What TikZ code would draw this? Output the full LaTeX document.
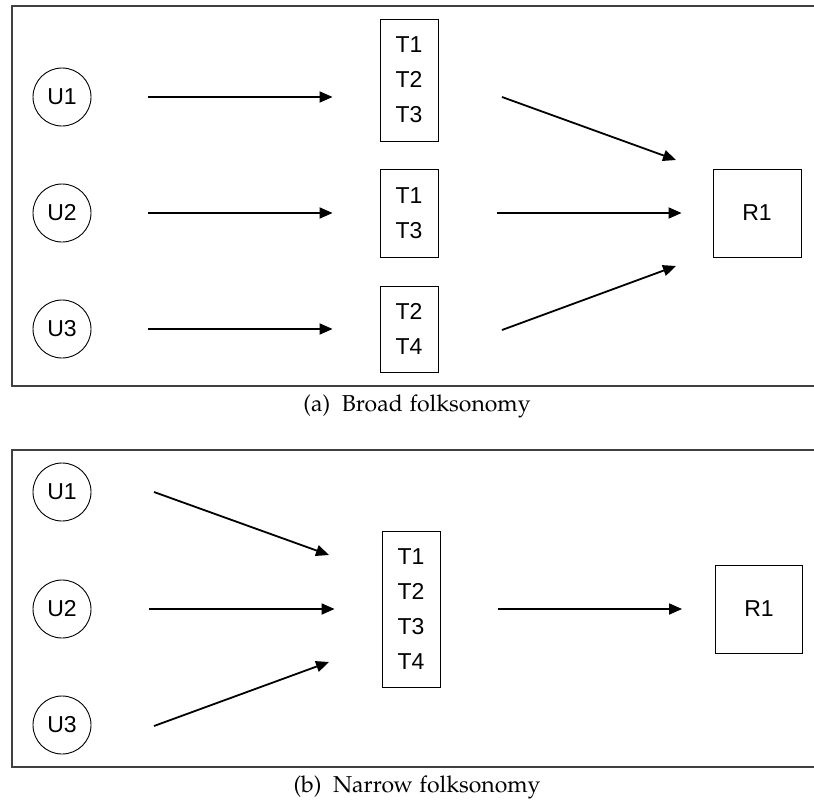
\documentclass[tikz,border=0pt]{standalone}
\usepackage{fontspec}
\usepackage[T1,TU]{fontenc}
\newfontfamily\diafont{Liberation Sans}
\newcommand\captfont{\fontencoding{T1}\fontfamily{pplx}\fontsize{23}{26}\selectfont}
\usepackage{tikz}
\usetikzlibrary{arrows.meta}

\tikzset{
  user/.style={draw, circle, line width=0.9pt, minimum size=58pt, inner sep=0pt,
    font=\diafont\fontsize{23}{35}\selectfont},
  tagbox/.style={draw, line width=0.9pt, minimum width=58pt, inner sep=0pt, align=center,
    font=\diafont\fontsize{23}{35}\selectfont},
  res/.style={draw, line width=0.9pt, minimum size=88pt, inner sep=0pt,
    font=\diafont\fontsize{23}{35}\selectfont},
  frame/.style={draw=black!75, line width=1.5pt},
  arr/.style={-{Triangle[length=13pt,width=11pt]}, line width=1.8pt},
  capt/.style={font=\captfont}
}

\begin{document}
\begin{tikzpicture}[x=1pt,y=-1pt]
\useasboundingbox (0,0) rectangle (814,803);

% (a) broad
\draw[frame] (12,6) rectangle (830,386);

\node[user] (u1) at (62,97) {U1};
\node[user] (u2) at (62,213) {U2};
\node[user] (u3) at (62,329) {U3};

\node[tagbox, minimum height=122pt] (t1) at (409,80) {T1\\T2\\T3};
\node[tagbox, minimum height=88pt] (t2) at (409,213) {T1\\T3};
\node[tagbox, minimum height=86pt] (t3) at (409,329) {T2\\T4};

\node[res] (r1) at (757,213) {R1};

\draw[arr, shorten <=57pt, shorten >=47pt] (u1) -- (u1 -| t1.west);
\draw[arr, shorten <=57pt, shorten >=47pt] (u2) -- (t2);
\draw[arr, shorten <=57pt, shorten >=47pt] (u3) -- (t3);

\coordinate (a1) at (502,97);
\coordinate (b1) at (676,160);
\coordinate (a3) at (502,330);
\coordinate (b3) at (676,266);
\draw[arr] (a1) -- (b1);
\draw[arr, shorten <=59pt, shorten >=31pt] (t2) -- (r1);
\draw[arr] (a3) -- (b3);

\node[capt] (capa) at (417,406) {(a)\enspace Broad folksonomy};

% (b) narrow
\draw[frame] (12,450) rectangle (830,767);

\node[user] (n1) at (62,492) {U1};
\node[user] (n2) at (62,609) {U2};
\node[user] (n3) at (62,725) {U3};

\node[tagbox, minimum height=156pt] (tt) at (411,609) {T1\\T2\\T3\\T4};
\node[res, minimum width=87pt] (r2) at (759,609) {R1};

\coordinate (c1) at (154,492);
\coordinate (d1) at (329,555);
\coordinate (c3) at (154,726);
\coordinate (d3) at (329,662);
\draw[arr] (c1) -- (d1);
\draw[arr, shorten <=58pt, shorten >=47pt] (n2) -- (tt);
\draw[arr] (c3) -- (d3);
\draw[arr, shorten <=58pt, shorten >=33pt] (tt) -- (r2);

\node[capt] (capb) at (417,787) {(b)\enspace Narrow folksonomy};

\end{tikzpicture}
\end{document}
